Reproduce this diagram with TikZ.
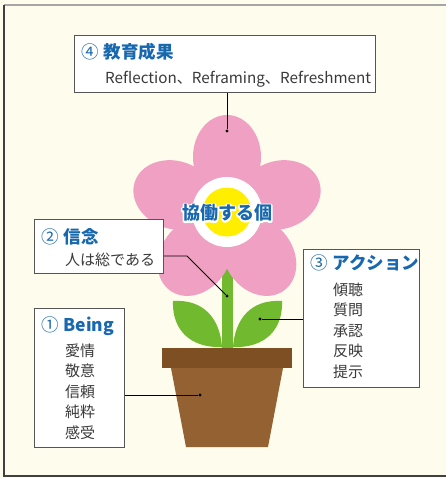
\documentclass[tikz,border=0pt]{standalone}
\usepackage{fontspec}
\setmainfont{Noto Sans CJK JP}
\definecolor{bgcream}{RGB}{254,252,236}
\definecolor{petal}{RGB}{240,160,194}
\definecolor{sun}{RGB}{255,238,0}
\definecolor{leaf}{RGB}{113,185,46}
\definecolor{rim}{RGB}{126,79,35}
\definecolor{potbody}{RGB}{148,97,50}
\definecolor{titleblue}{RGB}{24,104,176}
\definecolor{bodytext}{RGB}{58,58,58}
\definecolor{boxline}{RGB}{85,85,85}
% text with a white halo: stroked copy underneath, filled copy on top
\newcommand\halotext[1]{%
  \rlap{\special{pdf:code q 1 Tr 3.2 w 1 j 1 1 1 RG}#1\special{pdf:code Q}}#1}
% circled step number in regular weight
\newcommand\stepno[1]{{\mdseries #1}\hspace{5pt}}
\begin{document}
\begin{tikzpicture}[x=1pt,y=-1pt,
  infobox/.style={draw=boxline,line width=0.9pt,fill=white,anchor=north west,inner sep=0pt},
  titletext/.style={anchor=base west,inner sep=0pt,text=titleblue,font=\fontsize{17.5}{20}\selectfont\bfseries},
  itemtext/.style={anchor=base west,inner sep=0pt,text=bodytext,font=\fontsize{15}{18}\selectfont},
  leader/.style={draw=black,line width=0.8pt},
  pin/.style={circle,fill=black,inner sep=0pt,minimum size=3.4pt}]
\useasboundingbox (0,0) rectangle (446,478);
\fill[bgcream] (0,0) rectangle (446,478);
% outer frame
\draw[gray!70,line width=2pt] (4,5) -- (446,5);
\draw[black!75,line width=1.6pt] (4,5) -- (4,476) -- (446,476);

% stem and leaves
\fill[leaf] (222,250) rectangle (233,349);
\fill[leaf] (173,301) .. controls (205,299) and (220,320) .. (222,347)
  -- (215,347) .. controls (185,345) and (172,325) .. (173,301) -- cycle;
\fill[leaf] (282,301) .. controls (250,299) and (235,320) .. (233,347)
  -- (240,347) .. controls (270,345) and (283,325) .. (282,301) -- cycle;

% flower head
\begin{scope}[shift={(227,212)}]
  \foreach \a in {18,90,162,234,306}
    \fill[petal,rotate=\a] (55pt,0pt) ellipse [x radius=42pt,y radius=34pt];
  \fill[petal] (0,0) circle [radius=50pt];
  \fill[white] (0,0) circle [radius=35pt];
  \fill[sun] (0,0) circle [radius=24.5pt];
\end{scope}
\node[text=titleblue,font=\fontsize{18}{20}\selectfont\bfseries,inner sep=0pt]
  (core) at (227,213) {\halotext{協働する個}};

% pot
\fill[potbody] (171,368) -- (283,368) -- (268,447) -- (186,447) -- cycle;
\fill[rim] (162,348) rectangle (292,368);

% pins
\node[pin] (pTop) at (227,131) {};
\node[pin] (pStem) at (227,296) {};
\node[pin] (pLeaf) at (260,319) {};
\node[pin] (pPot) at (200,395) {};

% boxes
\node[infobox,minimum width=301pt,minimum height=57pt] (b4) at (74,35) {};
\node[infobox,minimum width=129pt,minimum height=54pt] (b2) at (34,219) {};
\node[infobox,minimum width=90pt,minimum height=139pt] (b1) at (34,308) {};
\node[infobox,minimum width=116pt,minimum height=138pt] (b3) at (303,249) {};

% leader lines
\coordinate (bend2) at (187,256);
\draw[leader] (b4.south -| pTop) -- (pTop);
\draw[leader] (b2.east |- bend2) -- (bend2) -- (pStem);
\draw[leader] (pLeaf) -- (pLeaf -| b3.west);
\draw[leader] (b1.east |- pPot) -- (pPot);

% box texts
\node[titletext] (t4) at (81,59) {\stepno{④}教育成果};
\node[itemtext,font=\fontsize{15.2}{18}\selectfont] (s4) at (105,84) {Reflection、Reframing、Refreshment};

\node[titletext] (t2) at (41,243) {\stepno{②}信念};
\node[itemtext] (s2) at (65,265) {人は総である};

\node[titletext] (t1) at (41,331) {\stepno{①}Being};
\node[itemtext] (i11) at (65,356) {愛情};
\node[itemtext] (i12) at (65,376.6) {敬意};
\node[itemtext] (i13) at (65,397.2) {信頼};
\node[itemtext] (i14) at (65,417.8) {純粋};
\node[itemtext] (i15) at (65,438.4) {感受};

\node[titletext] (t3) at (310,269) {\stepno{③}アクション};
\node[itemtext] (i31) at (333,295) {傾聴};
\node[itemtext] (i32) at (333,315.6) {質問};
\node[itemtext] (i33) at (333,336.2) {承認};
\node[itemtext] (i34) at (333,356.8) {反映};
\node[itemtext] (i35) at (333,377.4) {提示};
\end{tikzpicture}
\end{document}
